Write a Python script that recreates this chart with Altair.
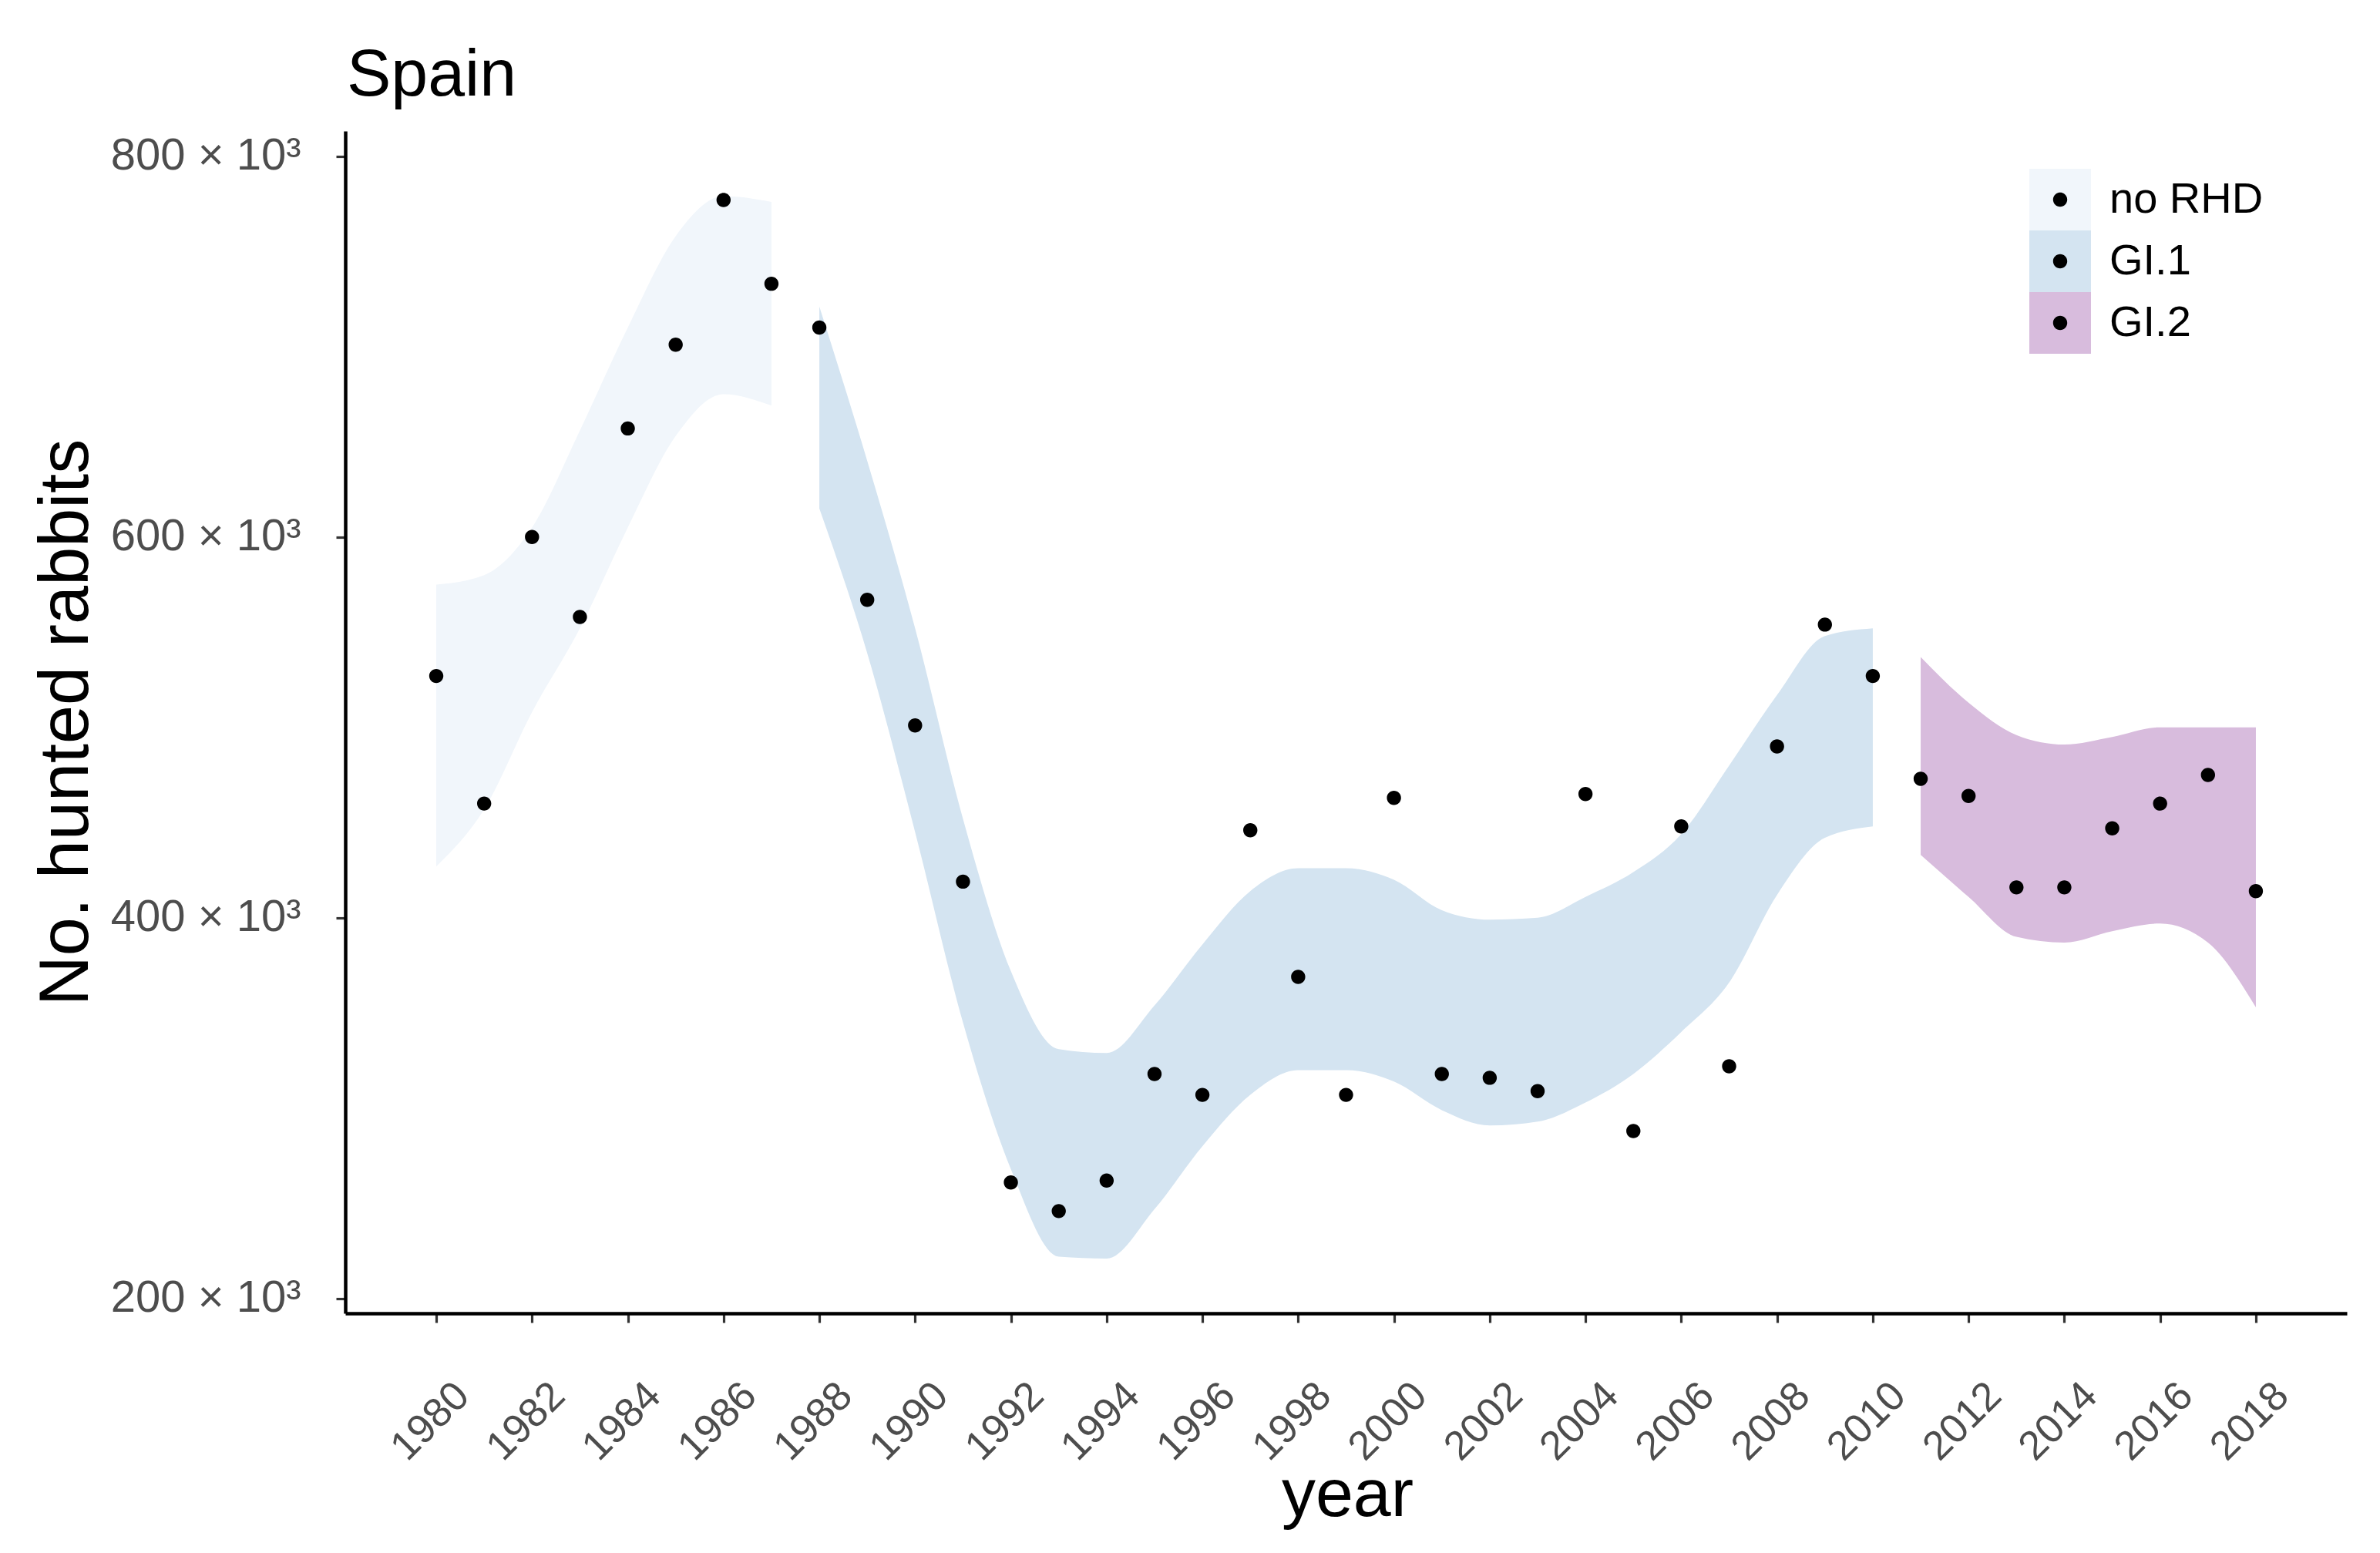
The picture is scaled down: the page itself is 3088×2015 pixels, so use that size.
import altair as alt
import pandas as pd

# ---------------- data (thousands of rabbits) ----------------
years = list(range(1980, 2019))
hunted = [527, 460, 600, 558, 657, 701, 777, 733, 710, 567,
          501, 419, 261, 246, 262, 318, 307, 446, 369, 307,
          463, 318, 316, 309, 465, 288, 448, 322, 490, 554,
          527, 473, 464, 416, 416, 447, 460, 475, 414]
periods = ["no RHD"] * 8 + ["GI.1"] * 23 + ["GI.2"] * 8

norhd_years = list(range(1980, 1988))
norhd_lower = [427, 457, 508, 552, 605, 653, 675, 669]
norhd_upper = [575, 580, 605, 656, 710, 758, 779, 776]

gi1_years = list(range(1988, 2011))
gi1_lower = [615, 539, 445, 345, 268, 222, 221, 247, 280, 307, 320, 320,
             314, 299, 291, 293, 303, 318, 340, 366, 412, 442, 448]
gi1_upper = [721, 640, 552, 452, 372, 331, 329, 354, 386, 414, 426, 426,
             420, 404, 399, 400, 411, 424, 444, 480, 517, 548, 552]

gi2_years = list(range(2011, 2019))
gi2_lower = [433, 411, 390, 387, 393, 397, 387, 353]
gi2_upper = [537, 513, 496, 491, 495, 500, 500, 500]

period_order = ["no RHD", "GI.1", "GI.2"]
period_colors = ["#F1F6FB", "#D4E4F1", "#D8BCDD"]

tick_years = list(range(1980, 2019, 2))
y_ticks = [200, 400, 600, 800]

points_df = pd.DataFrame({"year": years, "hunted": hunted, "period": periods})
band_df = pd.concat([
    pd.DataFrame({"year": norhd_years, "lower": norhd_lower, "upper": norhd_upper, "period": "no RHD"}),
    pd.DataFrame({"year": gi1_years, "lower": gi1_lower, "upper": gi1_upper, "period": "GI.1"}),
    pd.DataFrame({"year": gi2_years, "lower": gi2_lower, "upper": gi2_upper, "period": "GI.2"}),
], ignore_index=True)

FONT = "Liberation Sans"
# dot symbol (small disc centred in a full-size invisible box so legend rows match the squares)
DOT = "M-1,-1L-1,-1M1,1L1,1M0.23,0A0.23,0.23,0,1,1,-0.23,0A0.23,0.23,0,1,1,0.23,0Z"

x_scale = alt.Scale(domain=[1978.1, 2019.9], nice=False, zero=False)
y_scale = alt.Scale(domain=[192.3, 813.2], nice=False, zero=False)

x_axis = alt.Axis(
    values=tick_years, format="d", title="year",
    labelAngle=315, labelAlign="center", labelBaseline="middle",
    labelPadding=128, labelOffset=-8, labelFontSize=53, labelLimit=1000,
    labelFlush=False, labelOverlap=False,
    titleFontSize=88, titleX=1300, titleY=262, titleBaseline="alphabetic",
    titleAlign="center",
)
y_axis = alt.Axis(
    values=y_ticks, labelExpr="datum.value + ' × 10³'", title="No. hunted rabbits",
    labelFontSize=58, labelPadding=46, labelLimit=1000,
    titleFontSize=90, titleAngle=270, titleX=-335, titleY=767,
    titleBaseline="alphabetic", titleAlign="center",
)

legend_common = dict(
    orient="none", legendX=2185, legendY=49, title=None,
    symbolSize=6400, symbolStrokeWidth=0, symbolOpacity=1,
    labelFont=FONT, labelFontSize=56, labelColor="black", labelOffset=24,
    labelLimit=1000, rowPadding=0, padding=0,
)

bands = alt.Chart(band_df).mark_area(interpolate="monotone", opacity=1).encode(
    x=alt.X("year:Q", scale=x_scale, axis=x_axis),
    y=alt.Y("lower:Q", scale=y_scale, axis=y_axis),
    y2="upper:Q",
    fill=alt.Fill(
        "period:N",
        scale=alt.Scale(domain=period_order, range=period_colors),
        legend=alt.Legend(symbolType="square", **legend_common),
    ),
)

pts = alt.Chart(points_df).mark_point(
    filled=True, color="black", opacity=1, size=6400, strokeWidth=0
).encode(
    x=alt.X("year:Q", scale=x_scale, axis=x_axis),
    y=alt.Y("hunted:Q", scale=y_scale, axis=y_axis),
    shape=alt.Shape(
        "period:N", sort=period_order,
        scale=alt.Scale(range=[DOT, DOT, DOT]),
        legend=alt.Legend(symbolFillColor="black", labelOpacity=0, **legend_common),
    ),
)

chart = alt.layer(bands, pts).properties(
    width=2597, height=1534,
    autosize=alt.AutoSizeParams(type="none"),
    padding={"left": 440, "top": 162, "right": 30, "bottom": 290},
    title=alt.TitleParams(
        "Spain", anchor="start", frame="group", fontSize=86, font=FONT,
        color="black", fontWeight="normal", baseline="alphabetic", offset=36, dx=2, dy=76,
    ),
).configure_view(stroke="transparent").configure_axis(
    domainColor="black", domainWidth=4.5, tickColor="#333333", tickWidth=3.2,
    tickSize=12, grid=False, labelColor="#4D4D4D", labelFont=FONT,
    titleFont=FONT, titleFontWeight="normal", titleColor="black",
)

chart.save("out.html", embed_options={"renderer": "svg", "actions": False})
